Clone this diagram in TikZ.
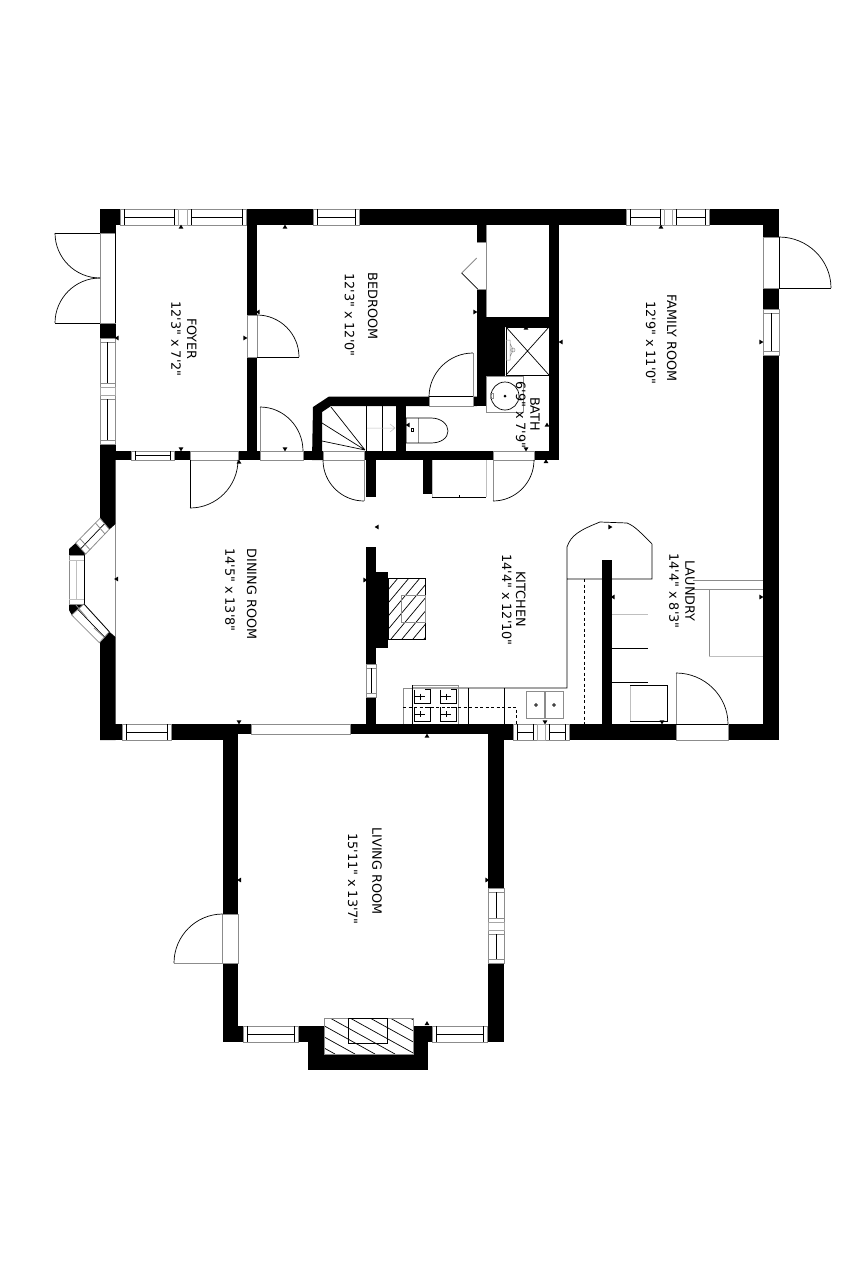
\documentclass[tikz,border=0pt]{standalone}
\usepackage{fontspec}
\usetikzlibrary{calc}
\newfontfamily\labfont{DejaVu Sans}
\tikzset{
  wall/.style={fill=black,draw=none},
  thinline/.style={draw=black,line width=0.7pt},
  greyline/.style={draw=black!45,line width=0.8pt},
  palegrey/.style={draw=black!25,line width=0.8pt},
  openfill/.style={fill=white,draw=black!45,line width=0.7pt},
  mullion/.style={fill=white,draw=black!35,line width=0.7pt},
  dashline/.style={draw=black,line width=0.6pt,dash pattern=on 3pt off 2.5pt},
  roomlabel/.style={rotate=-90,inner sep=0pt,font=\labfont\fontsize{12.8}{15}\selectfont}
}
\newcommand\qarc[3]{\draw[thinline] (#1) .. controls ($(#1)!0.55!(#2)$) and ($(#3)!0.55!(#2)$) .. (#3);}
\newcommand\hwin[4]{%
  \fill[white] (#1,#3) rectangle (#2,#4);
  \draw[greyline] (#1,#3) rectangle (#2,#4);
  \draw[thinline] ({#1+4},#3) -- ({#1+4},#4) ({#2-4},#3) -- ({#2-4},#4) ({#1+4},{(#3+#4)/2}) -- ({#2-4},{(#3+#4)/2});}
\newcommand\vwin[4]{%
  \fill[white] (#1,#3) rectangle (#2,#4);
  \draw[greyline] (#1,#3) rectangle (#2,#4);
  \draw[greyline] (#1,{#3+4}) -- (#2,{#3+4}) (#1,{#4-4}) -- (#2,{#4-4});
  \draw[thinline] ({(#1+#2)/2},{#3+4}) -- ({(#1+#2)/2},{#4-4});}
\newcommand\dimtick[3]{\fill[black,shift={(#1,#2)},rotate=#3] (2.4,0) -- (-1.6,2.4) -- (-1.6,-2.4) -- cycle;}
\newcommand\burner[2]{%
  \draw[thinline] ({#1-8},{#2-7}) -- ({#1-8},{#2+7}) -- ({#1+8},{#2+7}) -- ({#1+8},{#2-7}) -- ({#1+2},{#2-7})
    ({#1-8},{#2}) -- ({#1+2},{#2}) ({#1-2},{#2-3}) -- ({#1-2},{#2+3});}
\begin{document}
\begin{tikzpicture}[x=1pt,y=-1pt]
\useasboundingbox (0,0) rectangle (853,1280);
\fill[white] (0,0) rectangle (853,1280);

% ---------- walls
\fill[wall] (100,209) rectangle (779,225);
\fill[wall] (763,209) rectangle (779,740);
\fill[wall] (100,209) rectangle (115.5,460);
\fill[wall] (100,444) -- (115.5,444) -- (115.5,524) -- (109.3,529.5) -- (100,518.3) -- cycle;
\fill[wall] (100,642.7) -- (109.3,631.7) -- (115.5,637) -- (115.5,740) -- (100,740) -- cycle;
\fill[wall] (100,724) rectangle (238.3,740);
\fill[wall] (222.7,724) rectangle (238.3,1042);
\fill[wall] (238,724) rectangle (488,734);
\fill[wall] (488,724) rectangle (504,1042);
\fill[wall] (504,724) rectangle (779,740);
\fill[wall] (222.7,1026) rectangle (504,1042);
\fill[wall] (308,1026) rectangle (428,1070);
\fill[wall] (115,451) rectangle (559,460);
\fill[wall] (247,225) rectangle (257,460);
\fill[wall] (477,225) rectangle (486,406);
\fill[wall] (486,317) rectangle (505,376);
\fill[wall] (486,317) rectangle (559,327);
\fill[wall] (549,225) rectangle (559,460);
\fill[wall] (312,460) -- (313,407) -- (329,396.5) -- (477,396.5) -- (477,406) -- (331,406) -- (322,412) -- (322,460) -- cycle;
\fill[wall] (396,406) rectangle (406,451);
\fill[wall] (366,460) rectangle (376,497);
\fill[wall] (423,460) rectangle (432,494);
\fill[wall] (366,547) rectangle (376,724);
\fill[wall] (376,572) rectangle (388,648);
\fill[wall] (602,560) rectangle (612,724);

% ---------- windows
\hwin{120}{178}{209}{225}
\hwin{187}{246}{209}{225}
\draw[mullion] (178,209) rectangle (187,225);
\hwin{313}{359}{209}{225}
\hwin{626}{664}{209}{225}
\hwin{672}{709}{209}{225}
\draw[mullion] (664,209) rectangle (672,225);
\vwin{763}{779}{309}{355}
\vwin{100}{115.5}{338}{387}
\vwin{100}{115.5}{395}{444}
\draw[mullion] (100,387) rectangle (115.5,395);
\hwin{131}{174}{451}{460}
\hwin{122}{171}{724}{740}
\vwin{366}{376}{664}{697}
\hwin{513}{537}{724}{740}
\hwin{545}{569}{724}{740}
\draw[mullion] (537,724) rectangle (545,740);
\hwin{243}{298}{1026}{1042}
\hwin{432}{487}{1026}{1042}
\vwin{488}{504}{888}{922}
\vwin{488}{504}{930}{963}
\draw[mullion] (488,922) rectangle (504,930);

% ---------- sliding opening dining / living
\fill[white] (251,724) rectangle (350,734);
\draw[greyline] (251,724) rectangle (350,734);

% ---------- door openings
\draw[openfill] (100,233) rectangle (115.5,323);
\draw[thinline] (115.5,233) -- (115.5,323);
\draw[openfill] (247,315) rectangle (257,357);
\draw[openfill] (190,451) rectangle (238,460);
\draw[openfill] (260,451) rectangle (303,460);
\draw[openfill] (323,451) rectangle (364,460);
\draw[openfill] (493,451) rectangle (534,460);
\draw[openfill] (429,396.5) rectangle (473,406);
\draw[thinline] (429,396.5) -- (473,396.5);
\draw[openfill] (763,237) rectangle (779,288);
\draw[thinline] (779,237) -- (779,288);
\draw[openfill] (676,724) rectangle (728,740);
\draw[thinline] (676,724) -- (728,724);
\draw[openfill] (222.7,914) rectangle (238.3,963);
\fill[white] (477,242) rectangle (486,289);
\draw[greyline] (486,225) -- (486,317);
\draw[greyline] (477,242) -- (486,242) (477,289) -- (486,289);

% ---------- door swings
\draw[thinline] (55,233) -- (100,233) (55,323) -- (100,323);
\qarc{55,233}{55,278}{100,278}
\qarc{100,278}{55,278}{55,323}
\draw[thinline] (257,357) -- (299,357);
\qarc{257,315}{299,315}{299,357}
\draw[greyline] (260,407) -- (260,451);
\qarc{260,407}{303,407}{303,451}
\draw[thinline] (190,460) -- (190,508);
\qarc{190,508}{238,508}{238,460}
\draw[greyline] (364,460) -- (364,501);
\qarc{323,460}{323,501}{364,501}
\draw[greyline] (493,460) -- (493,501);
\qarc{493,501}{534,501}{534,460}
\draw[greyline] (473,353) -- (473,397);
\qarc{473,353}{429,353}{429,397}
\draw[thinline] (779,288) -- (831,288);
\qarc{779,237}{831,237}{831,288}
\draw[greyline] (676,673) -- (676,724);
\qarc{676,673}{728,673}{728,724}
\draw[greyline] (174,963) -- (222.7,963);
\qarc{174,963}{174,914}{222.7,914}

% ---------- closet bifold
\draw[greyline] (476.7,258) -- (461.7,273);
\draw[thinline] (461.7,273) -- (477.7,289);

% ---------- closet under the stairs
\draw[thinline] (432,497) -- (486,497);
\draw[palegrey] (486,460) -- (486,497) (432,460) -- (432,497);
\draw[thinline] (459,495) -- (459,497);

% ---------- stairs
\draw[thinline] (365,450) -- (331,407) (365,450) -- (322,423) (365,450) -- (322,441);
\draw[thinline] (366,406) -- (366,451) (382,406) -- (382,451);
\draw[palegrey,line width=0.5pt] (367,428) -- (395,428) (390,424) -- (395,428) -- (390,432);

% ---------- shower and bath fittings
\fill[white] (506,327) rectangle (549,375);
\draw[thinline] (506,327) -- (549,375) (549,327) -- (506,375);
\draw[thinline] (506,327) rectangle (549,375);
\draw[greyline,line width=0.5pt] (506,340) rectangle (510,360) (510,343) -- (513,350) -- (510,357) (513,350) circle[radius=2];
\draw[greyline] (486,376) rectangle (523,412);
\draw[thinline] (505,396) circle[radius=14];
\fill[black] (505,396) circle[radius=1.5];
\draw[greyline,line width=0.5pt] (490,393) rectangle (493,398);
\draw[greyline,line width=0.5pt] (418,418) -- (418,443) (406,418) -- (406,443);
\draw[thinline] (406,418) -- (431,418) .. controls (441,418) and (448,424) .. (448,431) .. controls (448,438) and (441,443) .. (431,443) -- (406,443);
\draw[thinline,line width=0.5pt] (411,428) rectangle (413,431);

% ---------- kitchen fireplace
\draw[thinline] (388,578) rectangle (425,639);
\begin{scope}
  \clip (388,578) rectangle (425,639);
  \foreach \xs in {398,409,...,480} {\draw[thinline] (\xs,578) -- ({\xs-51},639);}
\end{scope}
\draw[greyline] (401,595) rectangle (425,622);

% ---------- kitchen counter and peninsula
\draw[thinline] (412,688) -- (567,688) -- (567,547) .. controls (571,535) and (580,530) .. (600,522) -- (627,523) .. controls (635,526) and (642,534) .. (652,544) -- (652,579) -- (567,579);
\draw[greyline] (403,688) -- (412,688) (403,688) -- (403,724) (458,685) -- (458,724) (412,685) -- (458,685);
\draw[thinline] (412,685) -- (412,724) (468,688) -- (468,724) (504,688) -- (504,724);
\draw[dashline] (403,707) -- (516,707) -- (516,724);
\draw[dashline] (584,579) -- (584,724);
\burner{422.5}{696.5}
\burner{448.5}{696.5}
\burner{422.5}{714}
\burner{448.5}{714}
\draw[greyline] (526,691) rectangle (544,718);
\draw[greyline] (545,691) rectangle (563,718);
\draw[thinline] (536,705) circle[radius=1.4] (554,705) circle[radius=1.4];

% ---------- laundry
\draw[palegrey] (612,614) -- (648,614);
\draw[thinline] (612,648) -- (648,648) (612,682) -- (648,682);
\draw[palegrey] (630,685) -- (630,721);
\draw[thinline] (630,685) -- (667,685) -- (667,721) -- (630,721);
\draw[greyline] (693,580) -- (763,580) (693,589) -- (763,589);
\draw[greyline] (709,589) -- (709,656);
\draw[palegrey] (709,656) -- (763,656);

% ---------- bay window
\fill[wall] (69,549) -- (75.7,543) -- (85.7,554) -- (84,555) -- (69,555) -- cycle;
\fill[wall] (69,604) -- (84,604) -- (76,612) -- (71.7,615) -- (69,610) -- cycle;
\draw[greyline,fill=white] (75.7,543) -- (100,518.3) -- (109.3,529.3) -- (85.7,554) -- cycle;
\draw[thinline] (80.7,548.7) -- (104.3,524);
\draw[greyline] (80,538.7) -- (90,549.7) (95.5,523) -- (105,534);
\draw[greyline,fill=white] (69,555) rectangle (84,604);
\draw[palegrey] (69,560) -- (84,560) (69,599) -- (84,599);
\draw[palegrey] (76.5,560) -- (76.5,599);
\draw[thinline] (84,555) -- (84,604);
\draw[greyline,fill=white] (71.7,615) -- (84,604) -- (109.3,631.7) -- (99.3,642.7) -- cycle;
\draw[thinline] (78,609.5) -- (104.5,637);
\draw[greyline] (76,605) -- (87,618) (94,628) -- (104,637);
\draw[thinline] (84,604) -- (109.3,631.7);
\draw[greyline] (115.5,524) -- (115.5,637);

% ---------- living room fireplace
\fill[white] (324,1018) rectangle (413,1054);
\begin{scope}
  \clip (324,1018) rectangle (413,1054);
  \foreach \xs in {250,270,...,420} {\draw[thinline] (\xs,1018) -- ({\xs+65},1054);}
\end{scope}
\draw[greyline] (324,1018) rectangle (413,1054);
\draw[thinline] (348,1018) rectangle (387,1043);

% ---------- dimension ticks
\dimtick{181}{227}{90}
\dimtick{285}{227}{90}
\dimtick{181}{449}{-90}
\dimtick{285}{449}{-90}
\dimtick{117}{338}{180}
\dimtick{245}{338}{0}
\dimtick{239}{462}{90}
\dimtick{258}{312}{180}
\dimtick{475}{312}{0}
\dimtick{661}{227}{90}
\dimtick{561}{342}{180}
\dimtick{761}{342}{0}
\dimtick{526}{328}{90}
\dimtick{547}{425}{90}
\dimtick{526}{449}{-90}
\dimtick{546}{461.5}{90}
\dimtick{408}{425}{180}
\dimtick{377}{527}{180}
\dimtick{365}{580}{0}
\dimtick{427}{736}{90}
\dimtick{545}{722}{-90}
\dimtick{610}{527}{0}
\dimtick{613}{597}{180}
\dimtick{761}{597}{0}
\dimtick{662}{722}{-90}
\dimtick{116.5}{579}{180}
\dimtick{239}{722}{-90}
\dimtick{239.5}{880}{180}
\dimtick{487}{880}{0}
\dimtick{427}{1023.5}{90}

% ---------- room labels
\node[roomlabel] (foyername) at (191.7,339) {FOYER};
\node[roomlabel] (foyersize) at (176,339) {12'3" x 7'2"};
\node[roomlabel] (bedroomname) at (372.7,306) {BEDROOM};
\node[roomlabel] (bedroomsize) at (349.5,315) {12'3" x 12'0"};
\node[roomlabel] (familyname) at (671.7,338) {FAMILY ROOM};
\node[roomlabel] (familysize) at (650.7,343) {12'9" x 11'0"};
\node[roomlabel] (bathname) at (535,414) {BATH};
\node[roomlabel] (bathsize) at (520.7,415) {6'9" x 7'9"};
\node[roomlabel] (diningname) at (251.7,594) {DINING ROOM};
\node[roomlabel] (diningsize) at (230,590) {14'5" x 13'8"};
\node[roomlabel] (kitchenname) at (520.7,599) {KITCHEN};
\node[roomlabel] (kitchensize) at (506.7,600) {14'4" x 12'10"};
\node[roomlabel] (laundryname) at (690,591) {LAUNDRY};
\node[roomlabel] (laundrysize) at (674,591) {14'4" x 8'3"};
\node[roomlabel] (livingname) at (377,871) {LIVING ROOM};
\node[roomlabel] (livingsize) at (352.7,879) {15'11" x 13'7"};
\end{tikzpicture}
\end{document}
